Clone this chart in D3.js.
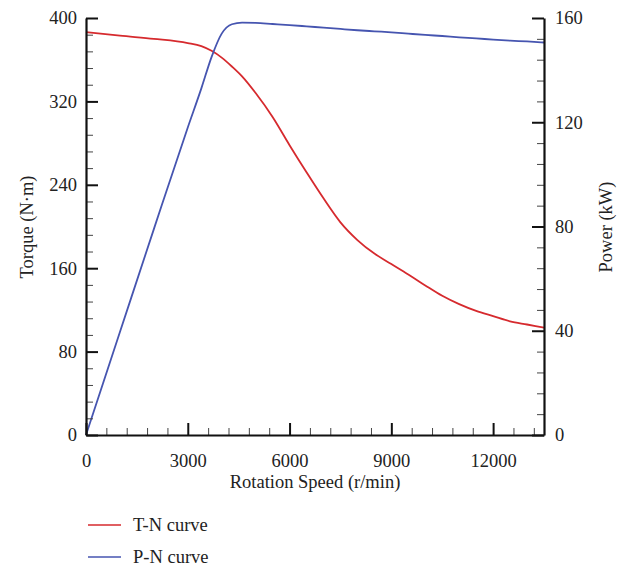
<!DOCTYPE html>
<html>
<head>
<meta charset="utf-8">
<script src="https://cdn.jsdelivr.net/npm/d3@7"></script>
<style>
  body { margin: 0; background: #fff; }
  svg text { font-family: "Liberation Serif", "DejaVu Serif", serif; fill: #222; }
</style>
</head>
<body>
<div id="app"></div>
<script>
// rotation speed (r/min) samples
const speed = [0, 1000, 2000, 3000, 3400, 3700, 4000, 4300, 4600, 5000, 5500, 6000, 6500, 7000, 7500, 8000, 8500, 9000, 9500, 10000, 10500, 11000, 11500, 12000, 12500, 13000, 13500]
// torque (N·m)
const torque = [386.5, 383, 380, 376, 373, 368.5, 362, 353.5, 344, 328, 305, 278, 252, 227, 204, 187, 174, 164, 154, 143.5, 133.5, 125.5, 119, 114, 109, 106, 103]
// power (kW)
const power = [0, 39.5, 79, 118, 133, 145, 154, 157.6, 158.2, 158.1, 157.7, 157.3, 156.8, 156.3, 155.8, 155.3, 154.9, 154.5, 154, 153.5, 153.1, 152.6, 152.2, 151.7, 151.3, 151, 150.6]

const xTicks = [0, 3000, 6000, 9000, 12000]
const torqueTicks = [0, 80, 160, 240, 320, 400]
const powerTicks = [0, 40, 80, 120, 160]
const legendLabels = ['T-N curve', 'P-N curve']
const colors = ['#d62a2e', '#4655b0']

const width = 632, height = 569
const padLeft = 86, padRight = 544, padTop = 18, padBottom = 435

const svg = d3.select('#app').append('svg')
    .attr('width', width)
    .attr('height', height)

const x = d3.scaleLinear().domain([0, 13500]).range([padLeft, padRight])
const yT = d3.scaleLinear().domain([0, 400]).range([padBottom, padTop])
const yP = d3.scaleLinear().domain([0, 160]).range([padBottom, padTop])

// curves
const tData = speed.map((n, i) => ({n: n, v: torque[i]}))
const pData = speed.map((n, i) => ({n: n, v: power[i]}))

svg.append('path')
    .attr('fill', 'none')
    .attr('stroke', colors[0])
    .attr('stroke-width', 1.8)
    .attr('d', d3.line().x(d => x(d.n)).y(d => yT(d.v)).curve(d3.curveMonotoneX)(tData))

svg.append('path')
    .attr('fill', 'none')
    .attr('stroke', colors[1])
    .attr('stroke-width', 1.8)
    .attr('d', d3.line().x(d => x(d.n)).y(d => yP(d.v)).curve(d3.curveMonotoneX)(pData))

// axes with inward ticks
const fmt = d3.format('d')
function styleAxis(g) {
    g.select('.domain').attr('stroke', '#111').attr('stroke-width', 2.2)
    g.selectAll('.tick line').attr('stroke', '#111').attr('stroke-width', 2)
    g.selectAll('.tick text').attr('font-size', 18.5).attr('font-family', '"Liberation Serif", serif').attr('fill', '#222')
}
function minorAxis(g) {
    g.select('.domain').remove()
    g.selectAll('.tick line').attr('stroke', '#444').attr('stroke-width', 1)
    g.selectAll('.tick text').remove()
}

const xMinor = d3.range(0, 13500 + 1, 600).filter(v => v % 3000 !== 0)
const tMinor = d3.range(0, 401, 16).filter(v => v % 80 !== 0)
const pMinor = d3.range(0, 161, 8).filter(v => v % 40 !== 0)

svg.append('g').attr('transform', `translate(0,${padBottom})`)
    .call(d3.axisBottom(x).tickValues(xMinor).tickSize(-7).tickSizeOuter(0))
    .call(minorAxis)
svg.append('g').attr('transform', `translate(${padLeft},0)`)
    .call(d3.axisLeft(yT).tickValues(tMinor).tickSize(-7).tickSizeOuter(0))
    .call(minorAxis)
svg.append('g').attr('transform', `translate(${padRight},0)`)
    .call(d3.axisRight(yP).tickValues(pMinor).tickSize(-7).tickSizeOuter(0))
    .call(minorAxis)

svg.append('g').attr('transform', `translate(0,${padBottom})`)
    .call(d3.axisBottom(x).tickValues(xTicks).tickFormat(fmt).tickSize(-12).tickSizeOuter(0).tickPadding(19))
    .call(styleAxis)
svg.append('g').attr('transform', `translate(${padLeft},0)`)
    .call(d3.axisLeft(yT).tickValues(torqueTicks).tickFormat(fmt).tickSize(-12).tickSizeOuter(0).tickPadding(9))
    .call(styleAxis)
svg.append('g').attr('transform', `translate(${padRight},0)`)
    .call(d3.axisRight(yP).tickValues(powerTicks).tickFormat(fmt).tickSize(-12).tickSizeOuter(0).tickPadding(11))
    .call(styleAxis)

// axis titles
svg.append('text').text('Rotation Speed (r/min)')
    .attr('x', 315).attr('y', 488)
    .attr('text-anchor', 'middle').attr('font-size', 18.5)
svg.append('text').text('Torque (N·m)')
    .attr('transform', `translate(33,227) rotate(-90)`)
    .attr('text-anchor', 'middle').attr('font-size', 18.5)
svg.append('text').text('Power (kW)')
    .attr('transform', `translate(612,227) rotate(-90)`)
    .attr('text-anchor', 'middle').attr('font-size', 18.5)

// legend
const legend = svg.append('g').attr('transform', 'translate(88,525)')
legend.selectAll('g')
    .data(legendLabels)
    .enter().append('g')
    .attr('transform', (d, i) => `translate(0,${i * 32})`)
    .each(function(d, i) {
        const g = d3.select(this)
        g.append('line').attr('x1', 0).attr('x2', 33).attr('y1', 0).attr('y2', 0)
            .attr('stroke', colors[i]).attr('stroke-width', 1.6)
        g.append('text').text(d).attr('x', 45).attr('y', 6).attr('font-size', 18.5)
    })
</script>
</body>
</html>
